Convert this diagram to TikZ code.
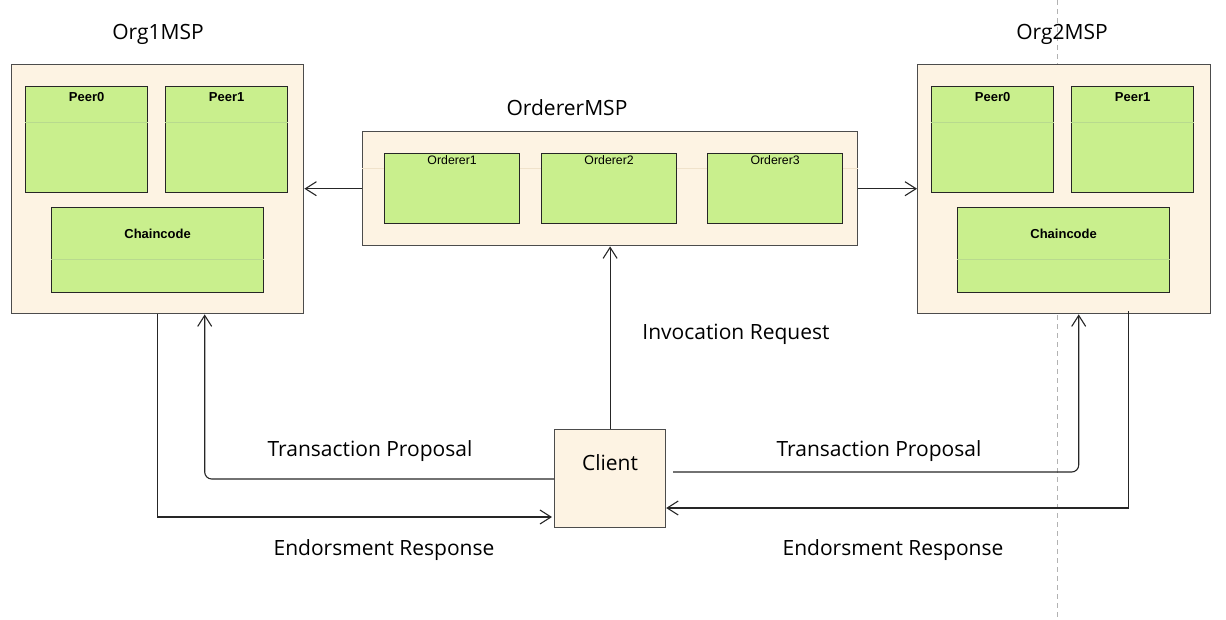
\documentclass[tikz,border=0pt]{standalone}
\usepackage{fontspec}
\setmainfont{Open Sans}
\newfontfamily\boxfont{Liberation Sans}
\usetikzlibrary{positioning,arrows.meta}
\definecolor{colcream}{HTML}{FDF3E3}
\definecolor{colgreen}{HTML}{C9EF8D}
\definecolor{colline}{HTML}{B8DA8E}
\definecolor{colband}{HTML}{F0E2CB}

\begin{document}
\begin{tikzpicture}[x=1pt, y=-1pt,
    msp/.style={draw=black!70, line width=1.4pt, fill=colcream, anchor=north west, inner sep=0pt},
    comp/.style={draw=black!85, line width=1.2pt, fill=colgreen, anchor=north west, inner sep=0pt},
    peerbox/.style={comp, minimum width=122pt, minimum height=106pt},
    ccbox/.style={comp, minimum width=212pt, minimum height=85pt},
    ordbox/.style={comp, minimum width=135pt, minimum height=70pt},
    title/.style={font=\fontsize{21}{24}\selectfont, inner sep=0pt},
    ctitle/.style={font=\boxfont\fontsize{13}{15}\selectfont\bfseries, inner sep=0pt},
    otitle/.style={font=\boxfont\fontsize{12.3}{14}\selectfont, inner sep=0pt},
    link/.style={draw=black!85, line width=1.1pt, -{Straight Barb[length=11pt, width=14pt]}}]
    \useasboundingbox (0,0) rectangle (1226,619);
    \draw[black!30, line width=0.8pt, dash pattern=on 5pt off 4pt] (1057,0) -- (1057,619);

    % Org1
    \node[msp, minimum width=292pt, minimum height=249pt] (org1) at (11,64) {};
    \node[title] (org1t) at (158,34) {Org1MSP};
    \node[peerbox] (o1p0) at (25,86) {};
    \node[peerbox] (o1p1) at (165,86) {};
    \node[ccbox] (o1cc) at (51,207) {};
    \draw[colline] ([yshift=-36pt]o1p0.north west) -- ([yshift=-36pt]o1p0.north east);
    \draw[colline] ([yshift=-36pt]o1p1.north west) -- ([yshift=-36pt]o1p1.north east);
    \draw[colline] ([yshift=-52pt]o1cc.north west) -- ([yshift=-52pt]o1cc.north east);
    \node[ctitle] (o1p0t) at ([yshift=-11pt]o1p0.north) {Peer0};
    \node[ctitle] (o1p1t) at ([yshift=-11pt]o1p1.north) {Peer1};
    \node[ctitle] (o1cct) at ([yshift=-27pt]o1cc.north) {Chaincode};

    % Org2
    \node[msp, minimum width=293pt, minimum height=249pt] (org2) at (917,64) {};
    \node[title] (org2t) at (1062,34) {Org2MSP};
    \node[peerbox] (o2p0) at (931,86) {};
    \node[peerbox] (o2p1) at (1071,86) {};
    \node[ccbox] (o2cc) at (957,207) {};
    \draw[colline] ([yshift=-36pt]o2p0.north west) -- ([yshift=-36pt]o2p0.north east);
    \draw[colline] ([yshift=-36pt]o2p1.north west) -- ([yshift=-36pt]o2p1.north east);
    \draw[colline] ([yshift=-52pt]o2cc.north west) -- ([yshift=-52pt]o2cc.north east);
    \node[ctitle] (o2p0t) at ([yshift=-11pt]o2p0.north) {Peer0};
    \node[ctitle] (o2p1t) at ([yshift=-11pt]o2p1.north) {Peer1};
    \node[ctitle] (o2cct) at ([yshift=-27pt]o2cc.north) {Chaincode};

    % Orderers
    \node[msp, minimum width=495pt, minimum height=114pt] (ord) at (362,131) {};
    \node[title] (ordt) at (567,108) {OrdererMSP};
    \draw[colband] ([yshift=-37pt]ord.north west) -- ([yshift=-37pt]ord.north east);
    \node[ordbox] (ord1) at (384,153) {};
    \node[ordbox] (ord2) at (541,153) {};
    \node[ordbox] (ord3) at (707,153) {};
    \node[otitle] (ord1t) at ([yshift=-7pt]ord1.north) {Orderer1};
    \node[otitle] (ord2t) at ([yshift=-7pt]ord2.north) {Orderer2};
    \node[otitle] (ord3t) at ([yshift=-7pt]ord3.north) {Orderer3};

    % Client
    \node[msp, line width=1.2pt, minimum width=111pt, minimum height=98pt] (client) at (554,429) {};
    \node[title] (clientt) at (610,463) {Client};

    \draw[link] (ord.west) -- (ord.west -| org1.east);
    \draw[link] (ord.east) -- (ord.east -| org2.west);
    \draw[link] (client.north) -- (client.north |- ord.south);
    \draw[link, rounded corners=7pt] ([yshift=-50pt]client.north west) -| ([xshift=47pt]org1.south);
    \draw[link] (org1.south) |- ([yshift=-88pt, xshift=-2pt]client.north west);
    \draw[link, rounded corners=7pt] ([yshift=-43pt, xshift=7pt]client.north east) -| ([xshift=14.5pt]org2.south);
    \draw[link] ([xshift=64pt, yshift=3pt]org2.south) |- ([yshift=-79pt]client.north east);

    \node[title] (invl) at (736,334) {Invocation Request};
    \node[title] (tp1l) at (370,451) {Transaction Proposal};
    \node[title] (tp2l) at (879,451) {Transaction Proposal};
    \node[title] (er1l) at (384,550) {Endorsment Response};
    \node[title] (er2l) at (893,550) {Endorsment Response};
\end{tikzpicture}
\end{document}
